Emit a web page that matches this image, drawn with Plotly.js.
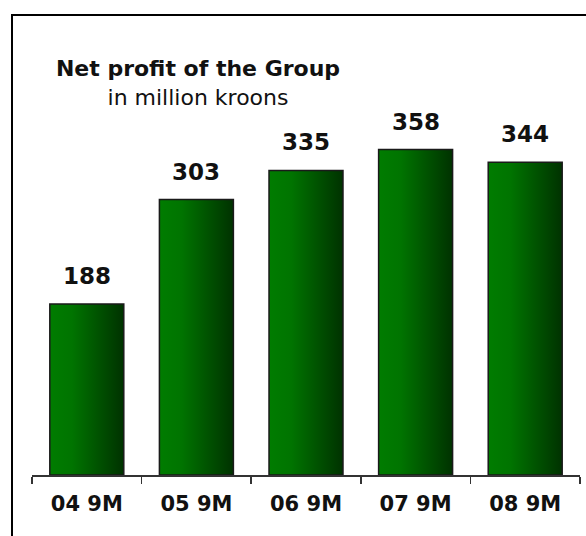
<!DOCTYPE html>
<html>
<head>
<meta charset="utf-8">
<script src="https://cdn.plot.ly/plotly-3.0.1.min.js"></script>
<style>
  html, body { margin: 0; padding: 0; background: #ffffff; }
  #chart { width: 586px; height: 536px; }
</style>
</head>
<body>
<div id="chart"></div>
<script>
// ---- data ----
const categories = ["04 9M", "05 9M", "06 9M", "07 9M", "08 9M"];
const netProfit = [188, 303, 335, 358, 344];
const chartTitle = "Net profit of the Group";
const chartSubtitle = "in million kroons";

const FONT = "DejaVu Sans, Verdana, sans-serif";

const trace = {
  type: "bar",
  x: categories,
  y: netProfit,
  marker: { color: "#006000", line: { color: "#1a1a1a", width: 1.5 } },
  hoverinfo: "none"
};

const annotations = categories.map((c, i) => ({
  x: c, y: netProfit[i], xref: "x", yref: "y",
  text: "<b>" + netProfit[i] + "</b>",
  showarrow: false, yanchor: "middle", yshift: 28,
  font: { family: FONT, size: 23, color: "#111111" }
}));

const layout = {
  width: 586, height: 536,
  margin: { l: 32, r: 6, t: 15, b: 61 },
  paper_bgcolor: "#ffffff", plot_bgcolor: "#ffffff",
  showlegend: false,
  bargap: 0.325,
  title: {
    text: "<b>" + chartTitle + "</b><br><span style='font-size:22px'>" + chartSubtitle + "</span>",
    font: { family: FONT, size: 22, color: "#111111" },
    x: 198 / 586, xanchor: "center", xref: "container",
    y: 1 - 76 / 536, yanchor: "top", yref: "container"
  },
  xaxis: {
    type: "category", range: [-0.5, 4.5],
    tickson: "boundaries", ticks: "outside", ticklen: 7, tickwidth: 1.5, tickcolor: "#333333",
    ticklabelstandoff: 9,
    showline: true, linecolor: "#333333", linewidth: 2,
    showgrid: false, zeroline: false, fixedrange: true,
    tickfont: { family: FONT, size: 21, color: "#111111", weight: "bold" }
  },
  yaxis: { visible: false, range: [0, 506], fixedrange: true, showgrid: false, zeroline: false },
  annotations: annotations,
  shapes: [
    { type: "line", xref: "paper", yref: "paper", x0: (12 - 32) / 548, x1: (590 - 32) / 548, y0: (475 - 15) / 460, y1: (475 - 15) / 460, line: { color: "#000000", width: 2 } },
    { type: "line", xref: "paper", yref: "paper", x0: (12 - 32) / 548, x1: (12 - 32) / 548, y0: (475 - 14) / 460, y1: (475 - 540) / 460, line: { color: "#000000", width: 2 } }
  ]
};

Plotly.newPlot("chart", [trace], layout, { displayModeBar: false, staticPlot: true }).then(gd => {
  const svg = gd.querySelector("svg.main-svg");
  const ns = "http://www.w3.org/2000/svg";
  let defs = svg.querySelector("defs");
  if (!defs) { defs = document.createElementNS(ns, "defs"); svg.insertBefore(defs, svg.firstChild); }
  const grad = document.createElementNS(ns, "linearGradient");
  grad.setAttribute("id", "barGrad");
  grad.setAttribute("x1", "0"); grad.setAttribute("x2", "1");
  grad.setAttribute("y1", "0"); grad.setAttribute("y2", "0");
  [["0", "#007c00"], ["0.3", "#007400"], ["1", "#003200"]].forEach(([o, c]) => {
    const s = document.createElementNS(ns, "stop");
    s.setAttribute("offset", o); s.setAttribute("stop-color", c);
    grad.appendChild(s);
  });
  defs.appendChild(grad);
  gd.querySelectorAll(".barlayer .point path").forEach(p => { p.style.fill = "url(#barGrad)"; });
});
</script>
</body>
</html>
